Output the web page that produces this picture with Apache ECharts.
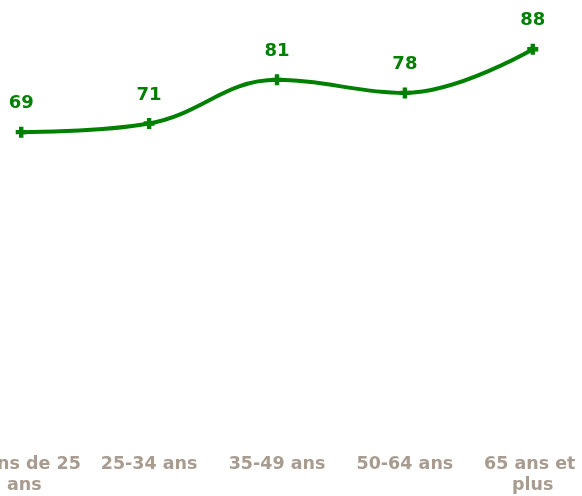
<!DOCTYPE html>
<html>
<head>
<meta charset="utf-8">
<script src="https://cdn.jsdelivr.net/npm/echarts@6/dist/echarts.min.js"></script>
<style>
  html, body { margin: 0; padding: 0; background: #fff; overflow: hidden; width: 582px; height: 496px; position: relative; }
  /* the original plot is wider than the window: first and last columns are cut */
  #chart { position: absolute; left: -44px; top: -3px; width: 642px; height: 500px; }
</style>
</head>
<body>
<div id="chart"></div>
<script>
var categories = ['Moins de 25 ans', '25-34 ans', '35-49 ans', '50-64 ans', '65 ans et plus'];
var values = [69, 71, 81, 78, 88];

var myChart = echarts.init(document.getElementById('chart'));
var option = {
  animation: false,
  grid: {
    left: 0,
    right: 0,
    top: 0,
    bottom: 64,
    containLabel: false
  },
  xAxis: {
    type: 'category',
    data: categories,
    boundaryGap: true,
    axisLine: { show: false },
    axisTick: { show: false },
    axisLabel: {
      color: '#a89b8f',
      fontFamily: 'DejaVu Sans',
      fontWeight: 'bold',
      fontSize: 17.5,
      lineHeight: 21,
      margin: 21,
      width: 125,
      overflow: 'break',
      interval: 0
    }
  },
  yAxis: {
    type: 'value',
    min: 0,
    max: 100,
    show: false,
    splitLine: { show: false }
  },
  series: [{
    type: 'line',
    data: values,
    smooth: 0.4,
    symbol: 'path://M3,0 H7 V3 H10 V7 H7 V10 H3 V7 H0 V3 H3 Z',
    symbolSize: 11,
    itemStyle: { color: '#008000' },
    lineStyle: { color: '#008000', width: 4 },
    label: {
      show: true,
      position: 'top',
      distance: 14,
      color: '#008000',
      fontFamily: 'DejaVu Sans',
      fontWeight: 'bold',
      fontSize: 18
    }
  }]
};
myChart.setOption(option);
</script>
</body>
</html>
